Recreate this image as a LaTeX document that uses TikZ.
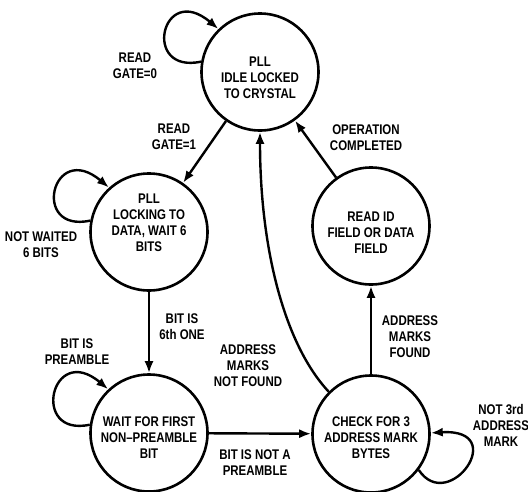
\documentclass[tikz,border=0pt]{standalone}
\usepackage{fontspec}
\setmainfont{Liberation Sans}[FakeStretch=0.82]
\usetikzlibrary{arrows.meta}
\tikzset{
  st/.style={draw, circle, minimum size=117pt, inner sep=0pt, line width=2.6pt},
  txt/.style={align=center, inner sep=0pt, font=\fontsize{14}{16}\selectfont\bfseries},
  edge/.style={line width=2.4pt, -{Latex[length=12pt,width=9pt]}},
}
\begin{document}
\begin{tikzpicture}[x=1pt,y=-1pt]
\useasboundingbox (0,0) rectangle (528,491);
% states
\node[st] (c1) at (260,72) {};
\node[st] (c2) at (149,232) {};
\node[st] (c3) at (149,433) {};
\node[st] (c4) at (371,434) {};
\node[st] (c5) at (371,226) {};
% state texts
\node[txt] (t1) at (260,78) {PLL\\IDLE LOCKED\\TO CRYSTAL};
\node[txt] (t2) at (149,223) {PLL\\LOCKING TO\\DATA, WAIT 6\\BITS};
\node[txt] (t3) at (149,438) {WAIT FOR FIRST\\NON–PREAMBLE\\BIT};
\node[txt] (t4) at (371,438) {CHECK FOR 3\\ADDRESS MARK\\BYTES};
\node[txt] (t5) at (371,233) {READ ID\\FIELD OR DATA\\FIELD};
% transitions
\draw[edge] (c1) -- (c2);
\draw[edge] (c2) -- (c3);
\draw[edge] (c3) -- (c4);
\draw[edge] (c4) -- (c5);
\draw[edge] (c5) -- (c1);
\draw[edge] (c4.135) .. controls (285,345) and (260,250) .. (c1.-90);
% self loops
\draw[edge] (c1.170) .. controls +(-60,13) and +(-57,-48) .. (c1.134);
\draw[edge] (c2.169) .. controls +(-60,13) and +(-57,-48) .. (c2.132);
\draw[edge] (c3.172) .. controls +(-60,13) and +(-57,-48) .. (c3.133);
\draw[edge] (c4.-37) .. controls +(30,45) and +(80,-5) .. (c4.1);
% labels
\node[txt] (l1) at (135,66) {READ\\GATE=0};
\node[txt] (l2) at (174,137) {READ\\GATE=1};
\node[txt] (l3) at (41,245) {NOT WAITED\\6 BITS};
\node[txt] (l4) at (182,327) {BIT IS\\6th ONE};
\node[txt] (l5) at (77,352) {BIT IS\\PREAMBLE};
\node[txt] (l6) at (248,366) {ADDRESS\\MARKS\\NOT FOUND};
\node[txt] (l7) at (255,463) {BIT IS NOT A\\PREAMBLE};
\node[txt] (l8) at (410,337) {ADDRESS\\MARKS\\FOUND};
\node[txt] (l9) at (501,425) {NOT 3rd\\ADDRESS\\MARK};
\node[txt] (l10) at (366,138) {OPERATION\\COMPLETED};
\end{tikzpicture}
\end{document}
